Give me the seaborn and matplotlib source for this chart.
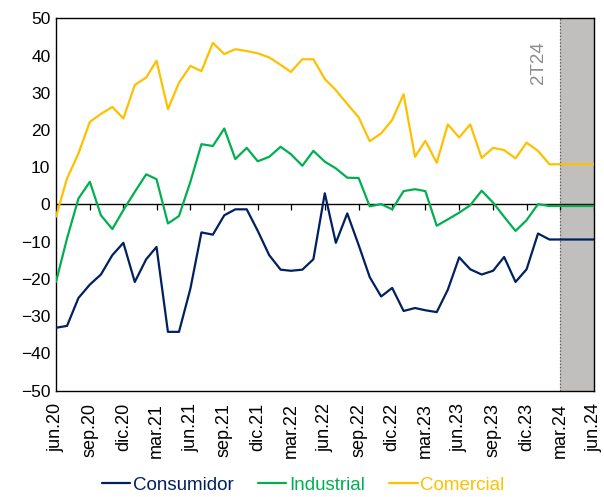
import pandas as pd
import seaborn as sns
import matplotlib.pyplot as plt

sns.set_theme(style="white")
plt.rcParams["font.family"] = ["Liberation Sans", "DejaVu Sans"]

months = pd.date_range("2020-06-01", "2024-06-01", freq="MS")
series_names = ["Consumidor", "Industrial", "Comercial"]
series_colors = ["#002060", "#00B050", "#FFC000"]

consumidor = [-33.1, -32.6, -25.1, -21.5, -18.8, -13.6, -10.3, -20.8, -14.7, -11.4,
              -34.2, -34.2, -22.6, -7.5, -8.1, -2.9, -1.3, -1.3, -7.1, -13.6,
              -17.5, -17.8, -17.5, -14.7, 3.0, -10.3, -2.4, -10.9, -19.5, -24.7,
              -22.4, -28.6, -27.8, -28.4, -28.9, -22.9, -14.2, -17.4, -18.8, -17.8,
              -14.1, -20.8, -17.4, -7.8, -9.4, -9.4, -9.4, -9.4, -9.4]
industrial = [-20.8, -9.1, 1.6, 6.1, -2.9, -6.6, -1.5, 3.4, 8.1, 6.8,
              -5.1, -3.1, 6.1, 16.2, 15.7, 20.4, 12.2, 15.2, 11.6, 12.8,
              15.5, 13.5, 10.4, 14.4, 11.5, 9.7, 7.2, 7.1, -0.5, 0.1,
              -1.3, 3.6, 4.1, 3.6, -5.7, -4.0, -2.2, -0.2, 3.7, 0.5,
              -3.3, -7.1, -4.2, 0.1, -0.4, -0.4, -0.4, -0.4, -0.4]
comercial = [-3.3, 7.0, 13.7, 22.2, 24.3, 26.2, 23.1, 32.1, 34.1, 38.6,
             25.6, 32.7, 37.2, 35.8, 43.4, 40.4, 41.7, 41.2, 40.6, 39.5,
             37.5, 35.6, 39.0, 39.0, 33.7, 30.7, 27.0, 23.4, 17.0, 19.1,
             22.7, 29.6, 12.8, 17.1, 11.2, 21.5, 18.0, 21.5, 12.5, 15.2,
             14.6, 12.4, 16.6, 14.4, 10.8, 10.8, 10.8, 10.8, 10.8]

mes_es = {1: "ene", 3: "mar", 6: "jun", 9: "sep", 12: "dic"}
tick_dates = months[::3]
tick_labels = [f"{mes_es[d.month]}.{d.strftime('%y')}" for d in tick_dates]
shade_start, shade_end = months[45], months[48]

df = pd.DataFrame({"fecha": months, "Consumidor": consumidor,
                   "Industrial": industrial, "Comercial": comercial})
long = df.melt(id_vars="fecha", var_name="serie", value_name="valor")

fig = plt.figure(figsize=(6.04, 4.97), dpi=100)
ax = fig.add_axes([0.0927, 0.2139, 0.8907, 0.7493])

ax.axvspan(shade_start, shade_end, color="#C0BFBE", zorder=0, lw=0)
ax.axvline(shade_start, color="#555555", ls=":", lw=0.9, zorder=1)

sns.lineplot(data=long, x="fecha", y="valor", hue="serie",
             hue_order=series_names, palette=series_colors,
             linewidth=1.6, ax=ax, zorder=3)

ax.axhline(0, color="black", lw=1, zorder=2)
ax.vlines(tick_dates, -1.5, 0, color="black", lw=0.9, zorder=2)

ax.set_xlim(months[0], months[-1])
ax.set_ylim(-50, 50)
ax.set_yticks(range(-50, 51, 10))
ax.set_xticks(tick_dates)
ax.set_xticklabels(tick_labels, rotation=90, va="top", ha="center")
ax.tick_params(axis="both", length=0, colors="black")
ax.tick_params(axis="x", pad=9, labelsize=13)
ax.tick_params(axis="y", pad=4, labelsize=12.5)
ax.set_xlabel("")
ax.set_ylabel("")

for s in ax.spines.values():
    s.set_color("black")
    s.set_linewidth(1)

ax.text(months[43], 38, "2T24", rotation=90, ha="center", va="center",
        fontsize=13.5, color="#8C8C8C")

ax.legend(loc="center", bbox_to_anchor=(0.46, -0.254), ncol=3,
          frameon=False, fontsize=13.5, handlelength=1.5, handletextpad=0.15,
          columnspacing=1.3, labelcolor="linecolor", borderpad=0.2)

plt.savefig("out.png", dpi=100)
